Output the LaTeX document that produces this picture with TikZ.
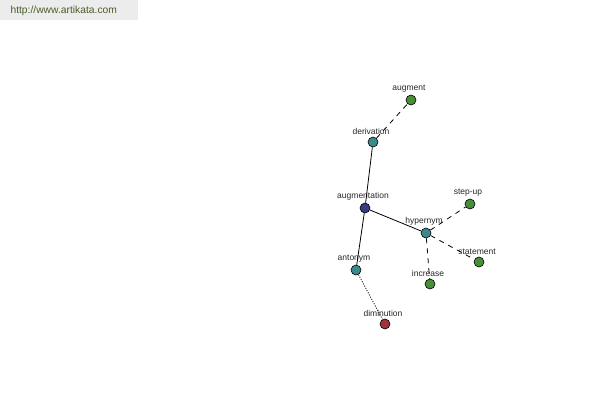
\documentclass[tikz,border=0pt]{standalone}
\usepackage{fontspec}
\setmainfont{Liberation Sans}
\usetikzlibrary{positioning}

\definecolor{leafgreen}{RGB}{72,142,56}
\definecolor{relteal}{RGB}{58,138,140}
\definecolor{rootblue}{RGB}{58,58,130}
\definecolor{antred}{RGB}{160,50,62}
\definecolor{bannergray}{RGB}{236,236,236}
\definecolor{urlgreen}{RGB}{74,94,38}

\begin{document}
\begin{tikzpicture}[x=1pt, y=-1pt,
        every node/.style={font=\fontsize{8.5}{9}\selectfont},
        word/.style={circle, draw, inner sep=0pt, minimum size=10pt, line width=0.6pt},
        every label/.style={font=\fontsize{8.5}{9}\selectfont, inner sep=0pt, text=black!85, xshift=-2pt},
        link/.style={line width=0.8pt},
        label distance=2pt
    ]
        \useasboundingbox (0,0) rectangle (600,400);
        % Bandeau du site
        \fill[bannergray] (0,0) rectangle (138,20);
        \node[anchor=west, text=urlgreen, font=\fontsize{10.3}{11}\selectfont] (url) at (7,10.5) {http://www.artikata.com};

        % Les mots
        \node [word, fill=rootblue, label=above:augmentation] (augmentation) at (365,208) {};
        \node [word, fill=relteal, label=above:derivation] (derivation) at (373,142) {};
        \node [word, fill=leafgreen, label=above:augment] (augment) at (411,100) {};
        \node [word, fill=relteal, label=above:hypernym] (hypernym) at (426,233) {};
        \node [word, fill=leafgreen, label=above:step-up] (stepup) at (470,204) {};
        \node [word, fill=leafgreen, label=above:statement] (statement) at (479,262) {};
        \node [word, fill=leafgreen, label=above:increase] (increase) at (430,284) {};
        \node [word, fill=relteal, label=above:antonym] (antonym) at (356,270) {};
        \node [word, fill=antred, label=above:diminution] (diminution) at (385,324) {};

        % Les liens
        \draw[link] (augmentation) -- (derivation);
        \draw[link] (augmentation) -- (hypernym);
        \draw[link] (augmentation) -- (antonym);
        \draw[link, dash pattern=on 5pt off 5pt] (derivation) -- (augment);
        \draw[link, dash pattern=on 5pt off 5pt] (hypernym) -- (stepup);
        \draw[link, dash pattern=on 5pt off 5pt] (hypernym) -- (statement);
        \draw[link, dash pattern=on 5pt off 5pt] (hypernym) -- (increase);
        \draw[link, dash pattern=on 1pt off 1.5pt] (antonym) -- (diminution);
    \end{tikzpicture}
\end{document}
